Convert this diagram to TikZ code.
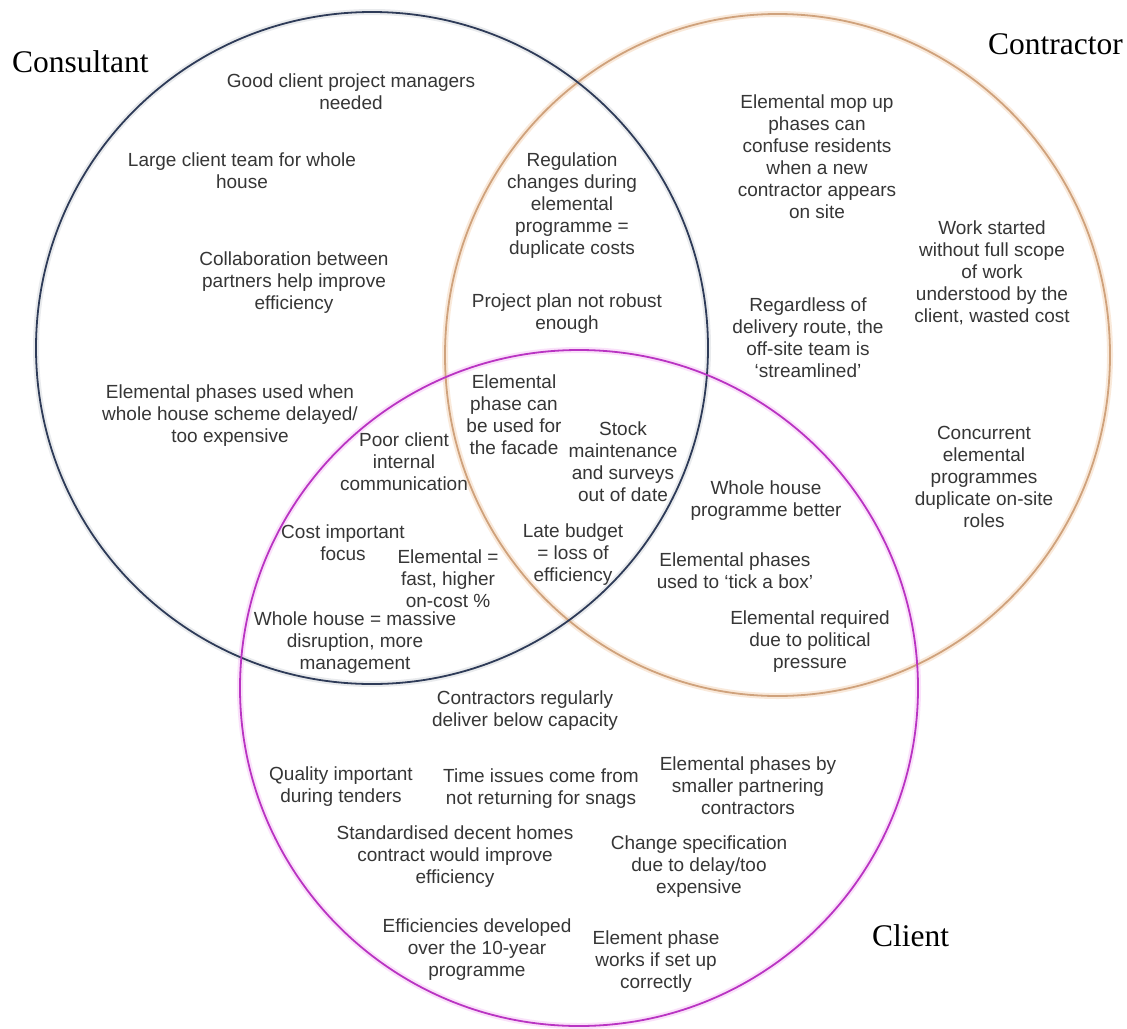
\documentclass[tikz,border=0pt]{standalone}
\usepackage{fontspec}
\setmainfont{Liberation Sans}
\newfontfamily\labelfont{Liberation Serif}
\definecolor{navyc}{HTML}{2E3B58}
\definecolor{tanc}{HTML}{CFA27C}
\definecolor{tanglow}{HTML}{F2C9A4}
\definecolor{magc}{HTML}{B934C2}
\definecolor{magglow}{HTML}{F4B4F4}
\definecolor{txtc}{HTML}{363636}
\begin{document}
\begin{tikzpicture}[x=1pt,y=-1pt,
  item/.style={font=\fontsize{19}{22}\selectfont, text=txtc, align=center, inner sep=0pt},
  setlabel/.style={font=\labelfont\fontsize{31.5}{36}\selectfont, text=black, inner sep=0pt, anchor=base west},
  ring/.style={line width=1.8pt},
  halo/.style={line width=6pt, opacity=0.4}]
\useasboundingbox (0,0) rectangle (1127,1028);
\fill[white] (0,0) rectangle (1127,1028);
% circles
\draw[halo, tanglow] (777.5,355) ellipse [x radius=332.5pt, y radius=341pt];
\draw[halo, navyc, opacity=0.1] (372,348) ellipse [x radius=336pt, y radius=336pt];
\draw[halo, magglow] (579,688) ellipse [x radius=339pt, y radius=338pt];
\draw[ring, tanc] (777.5,355) ellipse [x radius=332.5pt, y radius=341pt];
\draw[ring, navyc] (372,348) ellipse [x radius=336pt, y radius=336pt];
\draw[ring, magc] (579,688) ellipse [x radius=339pt, y radius=338pt];
% set labels
\node[setlabel] (lcons) at (12,72) {Consultant};
\node[setlabel] (lcont) at (988,54) {Contractor};
\node[setlabel] (lclie) at (872,946) {Client};
% consultant only
\node[item] (t1) at (351,92) {Good client project managers\\needed};
\node[item] (t2) at (242,171) {Large client team for whole\\house};
\node[item] (t3) at (294,283) {Collaboration between\\partners help improve\\efficiency};
\node[item] (t4) at (230,416) {Elemental phases used when\\whole house scheme delayed/\\too expensive};
% consultant & contractor
\node[item] (t5) at (572,206) {Regulation\\changes during\\elemental\\programme =\\duplicate costs};
\node[item] (t6) at (567,314) {Project plan not robust\\enough};
% contractor only
\node[item] (t7) at (817,157) {Elemental mop up\\phases can\\confuse residents\\when a new\\contractor appears\\on site};
\node[item] (t8) at (992,273) {Work started\\without full scope\\of work\\understood by the\\client, wasted cost};
\node[item] (t9) at (808,338) {Regardless of\\delivery route, the\\off-site team is\\`streamlined'};
\node[item] (t10) at (984,477) {Concurrent\\elemental\\programmes\\duplicate on-site\\roles};
% centre
\node[item] (t11) at (514,415) {Elemental\\phase can\\be used for\\the facade};
\node[item] (t12) at (623,462) {Stock\\maintenance\\and surveys\\out of date};
\node[item] (t13) at (573,555) {Late budget\\= loss of\\efficiency};
% consultant & client
\node[item] (t14) at (404,462) {Poor client\\internal\\communication};
\node[item] (t15) at (343,543) {Cost important\\focus};
\node[item] (t16) at (448,579) {Elemental =\\fast, higher\\on-cost \%};
\node[item] (t17) at (355,643) {Whole house = massive\\disruption, more\\management};
% contractor & client
\node[item] (t18) at (766,501) {Whole house\\programme better};
\node[item] (t19) at (735,571) {Elemental phases\\used to `tick a box'};
\node[item] (t20) at (810,642) {Elemental required\\due to political\\pressure};
% client only
\node[item] (t21) at (525,711) {Contractors regularly\\deliver below capacity};
\node[item] (t22) at (341,787) {Quality important\\during tenders};
\node[item] (t23) at (541,789) {Time issues come from\\not returning for snags};
\node[item] (t24) at (748,786) {Elemental phases by\\smaller partnering\\contractors};
\node[item] (t25) at (455,857) {Standardised decent homes\\contract would improve\\efficiency};
\node[item] (t26) at (699,867) {Change specification\\due to delay/too\\expensive};
\node[item] (t27) at (477,950) {Efficiencies developed\\over the 10-year\\programme};
\node[item] (t28) at (656,962) {Element phase\\works if set up\\correctly};
\end{tikzpicture}
\end{document}
